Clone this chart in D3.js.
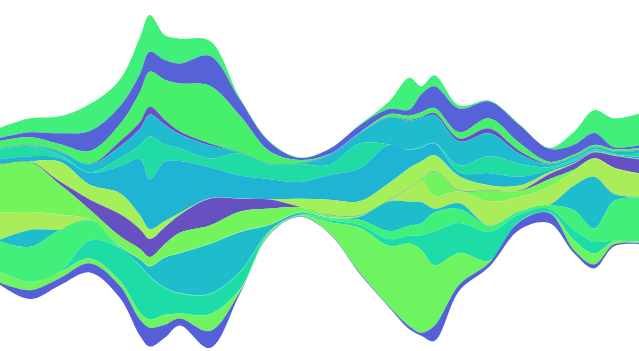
<!DOCTYPE html>
<html>
<head>
<meta charset="utf-8">
<script src="https://cdn.jsdelivr.net/npm/d3@7"></script>
<style>
  body { margin: 0; background: #fff; }
</style>
</head>
<body>
<div id="stream"></div>
<script>
// sample positions along the stream
var steps = [0, 30, 60, 90, 120, 140, 150, 165, 180, 210, 240, 270, 300, 330, 360, 390, 410, 422, 435, 460, 490, 520, 550, 575, 595, 615, 640];

// layer thickness, listed top layer first
var gTop    = [10, 14, 17, 27, 27, 37, 37, 25, 25, 15, 2, 1, 0.5, 0.5, 1, 8, 32, 8, 11, 3, 1, 1, 1, 13, 23, 29, 32];
var bTop    = [3, 5, 11, 20, 18, 18, 20, 20, 20, 30, 16, 9, 2, 5, 7, 5, 6, 18, 22, 24, 17, 18, 13, 10, 12, 2, 3];
var gUp     = [7, 8, 7, 13, 17, 30, 35, 40, 48, 58, 37, 12, 3, 0.5, 0.5, 3, 4, 5, 5, 6, 10, 8, 2, 2, 2, 2, 2];
var pThin   = [0.5, 0.5, 0.5, 0.5, 5, 7, 8, 5, 3, 2, 0.5, 0.5, 0.5, 0.5, 0.5, 0.5, 1, 1, 2, 3, 5, 3, 0.5, 0.5, 0.5, 0.5, 0.5];
var cUp     = [0.5, 0.5, 3, 8, 12, 16, 22, 20, 14, 13, 1, 0.5, 0.5, 10, 10, 27, 29, 29, 28, 24, 23, 10, 3, 2, 2, 2, 3];
var tUp     = [10, 10, 3, 0.5, 8, 14, 43, 17, 13, 9, 22, 15, 18, 10, 25, 0.5, 0.5, 0.5, 0.5, 7, 17, 13, 3, 2, 2, 1, 3];
var cMid    = [5, 5, 4, 12, 27, 56, 50, 60, 52, 31, 23, 20, 17, 25, 33, 38, 18, 14, 12, 4, 12, 9, 2, 2, 0.5, 0.5, 2];
var lime    = [0.5, 0.5, 20, 15, 21, 14, 10, 6, 2, 0.5, 0.5, 0.5, 8, 15, 14, 17, 20, 18, 16, 14, 5, 5, 2, 0.5, 0.5, 0.5, 0.5];
var pMid    = [0.5, 0.5, 3, 10, 22, 20, 18, 17, 18, 27, 13, 9, 0.5, 0.5, 0.5, 0.5, 0.5, 0.5, 0.5, 0.5, 0.5, 0.5, 5, 6, 6, 12, 14];
var gLow    = [48, 50, 30, 10, 10, 10, 9, 13, 20, 18, 20, 16, 5, 2, 0.5, 0.5, 0.5, 0.5, 24, 0.5, 11, 6, 8, 2, 0.5, 0.5, 0.5];
var lime2   = [27, 18, 15, 0.5, 0.5, 0.5, 0.5, 0.5, 0.5, 0.5, 0.5, 0.5, 0.5, 0.5, 0.5, 0.5, 13, 22, 13, 12, 24, 14, 18, 14, 18, 26, 23];
var cLow    = [2, 17, 0.5, 0.5, 1, 6, 10, 30, 40, 50, 40, 6, 2, 0.5, 3, 30, 24, 21, 4, 6, 0.5, 0.5, 0.5, 25, 52, 7, 0.5];
var gSpring = [30, 35, 42, 20, 0.5, 0.5, 0.5, 0.5, 0.5, 0.5, 0.5, 0.5, 0.5, 2, 5, 8, 10, 12, 19, 14, 6, 3, 3, 20, 13, 40, 45];
var tLow    = [0.5, 0.5, 0.5, 18, 33, 47, 43, 27, 20, 20, 17, 0.5, 0.5, 2, 3, 7, 8, 15, 34, 30, 29, 7, 4, 10, 12, 0.5, 0.5];
var gBot    = [11, 8, 6, 5, 5, 7, 8, 10, 5, 17, 3, 2, 0.5, 11, 45, 61, 83, 83, 61, 32, 2, 0.5, 0.5, 10, 11, 3, 0.5];
var bBot    = [2, 9, 7, 9, 12, 16, 19, 13, 7, 17, 2, 0.5, 0.5, 0.5, 1, 1, 3, 3, 15, 6, 4, 8, 10, 3, 4, 2, 1];

var layers = ["gTop", "bTop", "gUp", "pThin", "cUp", "tUp", "cMid", "lime", "pMid", "gLow", "lime2", "cLow", "gSpring", "tLow", "gBot", "bBot"];
var values = {
  gTop: gTop, bTop: bTop, gUp: gUp, pThin: pThin, cUp: cUp, tUp: tUp, cMid: cMid, lime: lime,
  pMid: pMid, gLow: gLow, lime2: lime2, cLow: cLow, gSpring: gSpring, tLow: tLow, gBot: gBot, bBot: bBot
};
var colours = {
  gTop: "#40f07a", bTop: "#5562d8", gUp: "#47f06b", pThin: "#6a50c6", cUp: "#1fbcd0", tUp: "#20dba4",
  cMid: "#1fb4d4", lime: "#a4f05a", pMid: "#6650c2", gLow: "#74f45c", lime2: "#a9ee5a", cLow: "#1dbdcc",
  gSpring: "#40f07a", tLow: "#1edca8", gBot: "#6ef460", bBot: "#5560d8"
};

var w = 639;
var h = 351;

var table = steps.map(function(s, i){
  var row = {step: s};
  layers.forEach(function(k){ row[k] = values[k][i]; });
  return row;
});

// same idea as d3.stackOffsetWiggle, but each step is weighted by the
// mean thickness of both ends (the samples are far apart)
function wiggleAveraged(series, order) {
  var m = series[order[0]].length;
  var base = [0];
  for (var j = 1; j < m; ++j) {
    var s1 = 0, s2 = 0, run = 0;
    order.forEach(function(k){
      var now = series[k][j][1], before = series[k][j - 1][1];
      var wt = (now + before) / 2, d = now - before;
      s2 += wt * (run + d / 2);
      run += d;
      s1 += wt;
    });
    base.push(s1 ? base[j - 1] - s2 / s1 : base[j - 1]);
  }
  base.forEach(function(b, j){
    var p = series[order[0]][j];
    p[0] = b;
    p[1] += b;
  });
  d3.stackOffsetNone(series, order);
}

var stacked = d3.stack()
  .keys(layers)
  .order(d3.stackOrderNone)
  .offset(wiggleAveraged)(table);

var x = d3.scaleLinear()
  .domain([0, 640])
  .range([0, w]);

var y = d3.scaleLinear()
  .domain([
    d3.min(stacked, function(s){ return d3.min(s, function(d){ return d[0]; }); }),
    d3.max(stacked, function(s){ return d3.max(s, function(d){ return d[1]; }); })
  ])
  .range([15, 348]);

var area = d3.area()
  .curve(d3.curveCatmullRom.alpha(0.5))
  .x(function(d){ return x(d.data.step); })
  .y0(function(d){ return y(d[0]); })
  .y1(function(d){ return y(d[1]); });

var svg = d3.select("#stream").append("svg")
  .attr("width", w)
  .attr("height", h);

svg.selectAll("path")
  .data(stacked)
  .enter()
  .append("path")
  .attr("d", area)
  .attr("fill", function(d){ return colours[d.key]; });
</script>
</body>
</html>
